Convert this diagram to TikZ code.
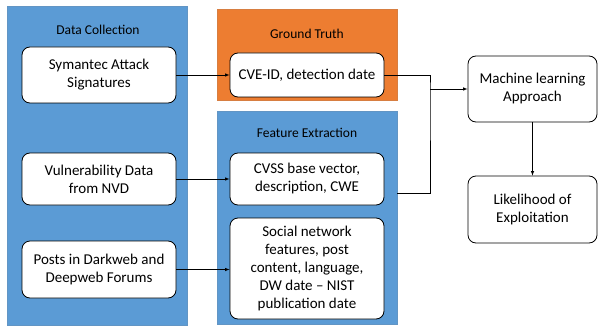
\documentclass[tikz,border=0pt]{standalone}
\usepackage{fontspec}
\setmainfont{Carlito}
\usetikzlibrary{positioning}
\definecolor{panelblue}{HTML}{5B9BD5}
\definecolor{panelorange}{HTML}{ED7D31}
\begin{document}
\begin{tikzpicture}[x=1pt,y=-1pt,
        panel/.style={draw=#1!80!gray, line width=0.6pt, fill=#1, minimum width=180pt, inner sep=0pt},
        paneltitle/.style={font=\fontsize{13.5}{16}\selectfont},
        stage/.style={draw=black, line width=0.8pt, fill=white, rounded corners=8pt, align=center,
            minimum width=154pt, inner sep=2pt, font=\fontsize{15}{18}\selectfont},
        link/.style={line width=0.6pt, -latex}]
    \useasboundingbox (0,0) rectangle (599,326);
    % the three coloured panels
    \node[panel=panelblue, minimum height=319pt] (dc) at (97,165.5) {};
    \node[panel=panelorange, minimum height=91pt] (gt) at (307,54.5) {};
    \node[panel=panelblue, minimum height=213pt] (fe) at (307,217.5) {};
    \node[paneltitle] (dc title) at (98,30) {Data Collection};
    \node[paneltitle] (gt title) at (307,34) {Ground Truth};
    \node[paneltitle] (fe title) at (307,133) {Feature Extraction};
    % data sources
    \node[stage, minimum height=56pt] (sym) at (99,75) {Symantec Attack\\Signatures};
    \node[stage, minimum height=52pt] (nvd) at (99,179) {Vulnerability Data\\from NVD};
    \node[stage, minimum height=57pt] (posts) at (99,269.5) {Posts in Darkweb and\\Deepweb Forums};
    % labels and features
    \node[stage, minimum height=44pt] (cve) at (307,75) {CVE-ID, detection date};
    \node[stage, minimum height=52pt] (cvss) at (307,179) {CVSS base vector,\\description, CWE};
    \node[stage, minimum height=101pt] (social) at (307,268.5)
        {Social network\\features, post\\content, language,\\DW date -- NIST\\publication date};
    % learner and output
    \node[stage, minimum width=129pt, minimum height=66pt] (ml) at (532.5,89) {Machine learning\\Approach};
    \node[stage, minimum width=129pt, minimum height=67pt] (lik) at (532.5,209.5) {Likelihood of\\Exploitation};
    \draw[link] (sym) -- (cve);
    \draw[link] (nvd) -- (cvss);
    \draw[link] (posts.east) -- (posts.east -| social.west);
    \coordinate (join) at (430,89);
    \coordinate (fe out) at (397,193);
    \draw[line width=0.6pt] (cve.east) -| (join) |- (fe out);
    \draw[link] (join) -- (ml);
    \draw[link] (ml) -- (lik);
\end{tikzpicture}
\end{document}
